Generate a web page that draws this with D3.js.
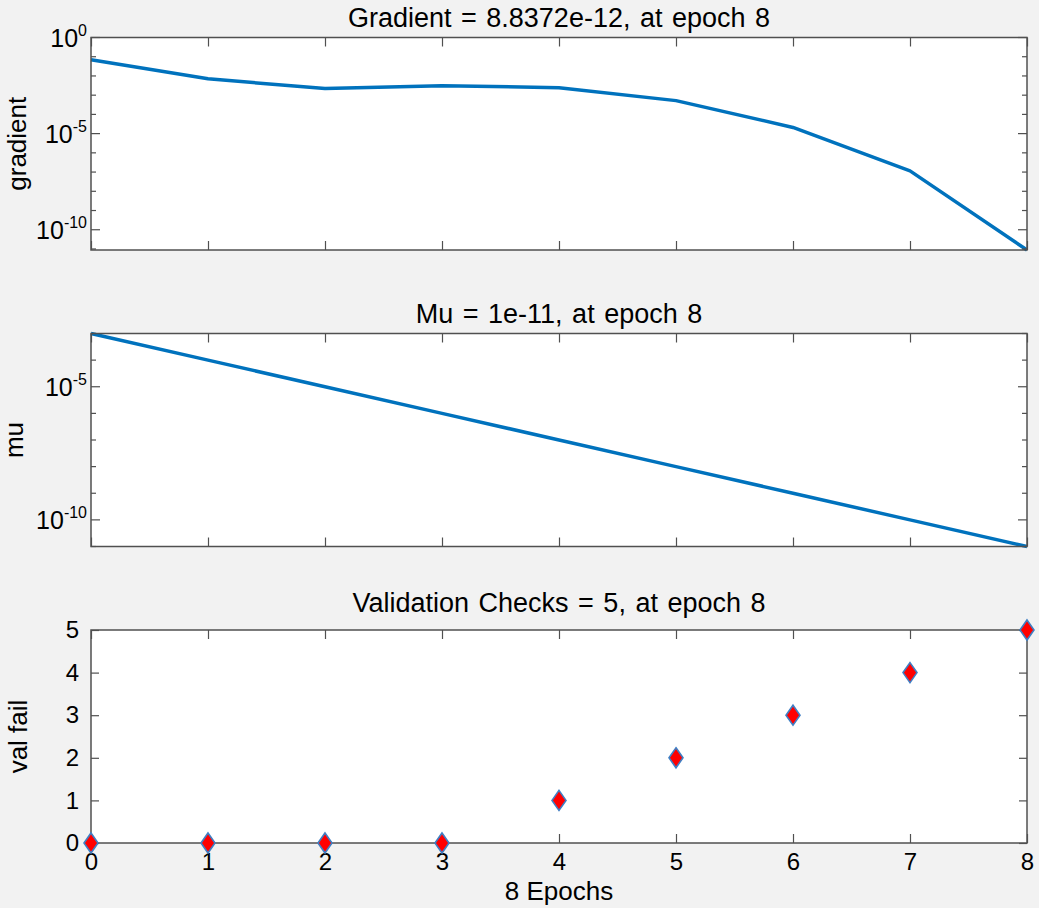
<!DOCTYPE html>
<html>
<head>
<meta charset="utf-8">
<script src="https://cdn.jsdelivr.net/npm/d3@7"></script>
<style>
  body { margin: 0; background: #f2f2f2; }
  svg { display: block; font-family: "Liberation Sans", Arial, sans-serif; }
  .title { font-size: 27px; word-spacing: 2px; text-anchor: middle; fill: #000; }
  .ylabel { font-size: 26px; text-anchor: middle; fill: #000; }
  .tick text { font-size: 24px; fill: #000; font-family: "Liberation Sans", Arial, sans-serif; }
</style>
</head>
<body>
<svg width="1039" height="908"></svg>
<script>
const epochs = [0, 1, 2, 3, 4, 5, 6, 7, 8]
const gradient = [0.069, 0.0071, 0.0022, 0.0031, 0.00245, 0.00052, 2.1e-5, 1.15e-7, 8.8372e-12]
const mu = [1e-3, 1e-4, 1e-5, 1e-6, 1e-7, 1e-8, 1e-9, 1e-10, 1e-11]
const valFail = [0, 0, 0, 0, 1, 2, 3, 4, 5]

const gradMajor = [0, -5, -10]
const muMajor = [-5, -10]
const valTicks = [0, 1, 2, 3, 4, 5]

const svg = d3.select("svg")
const axisColor = "#505050"
const lineColor = "#0072bd"

const left = 91, right = 1027

const scaleX = d3.scaleLinear()
    .domain([0, 8])
    .range([left, right])

// white plot area + title + rotated y label
const drawFrame = function (top, bottom, title, ylabel, labelX, titleY) {
    const g = svg.append("g")
    g.append("rect")
        .attr("x", left).attr("y", top)
        .attr("width", right - left).attr("height", bottom - top)
        .attr("fill", "#fff")
    g.append("text")
        .attr("class", "title")
        .attr("x", (left + right) / 2)
        .attr("y", titleY)
        .text(title)
    g.append("text")
        .attr("class", "ylabel")
        .attr("transform", `translate(${labelX},${(top + bottom) / 2}) rotate(-90)`)
        .text(ylabel)
    return g
}

const addBox = function (g, top, bottom) {
    g.append("rect")
        .attr("x", left).attr("y", top)
        .attr("width", right - left).attr("height", bottom - top)
        .attr("fill", "none")
        .attr("stroke", axisColor)
        .attr("stroke-width", 1.5)
}

const xTicks = function (g, top, bottom, labels) {
    const axB = d3.axisBottom(scaleX).tickValues(epochs).tickSize(-9).tickSizeOuter(0).tickPadding(10)
        .tickFormat(d3.format("d"))
    const axT = d3.axisTop(scaleX).tickValues(epochs).tickSize(-9).tickSizeOuter(0).tickFormat("")
    const gb = g.append("g").attr("transform", `translate(0,${bottom})`).call(axB)
    g.append("g").attr("transform", `translate(0,${top})`).call(axT)
    if (!labels) gb.selectAll("text").remove()
    g.selectAll(".domain").remove()
    g.selectAll(".tick line").attr("stroke", axisColor).attr("stroke-width", 1.2)
}

// log y ticks: major with 10^n labels, minor at every decade
const logTicks = function (g, scaleY, majors) {
    const [lo, hi] = scaleY.domain().map(Math.log10)
    const decades = d3.range(Math.ceil(lo), Math.floor(hi) + 1)
    decades.forEach(p => {
        const y = scaleY(Math.pow(10, p))
        const len = majors.includes(p) ? 9 : 5
        g.append("line").attr("x1", left).attr("x2", left + len).attr("y1", y).attr("y2", y)
            .attr("stroke", axisColor).attr("stroke-width", 1.2)
        g.append("line").attr("x1", right).attr("x2", right - len).attr("y1", y).attr("y2", y)
            .attr("stroke", axisColor).attr("stroke-width", 1.2)
    })
    majors.forEach(p => {
        const y = scaleY(Math.pow(10, p))
        const t = g.append("text")
            .attr("x", left - 4)
            .attr("y", y + 9)
            .attr("text-anchor", "end")
            .attr("font-size", "25px")
        t.append("tspan").text("10")
        t.append("tspan").attr("dy", -11).attr("font-size", "16px").text(p)
    })
}

// ---- panel 1: gradient
{
    const top = 37.5, bottom = 250
    const g = drawFrame(top, bottom, "Gradient = 8.8372e-12, at epoch 8", "gradient", 26, 27)
    const scaleY = d3.scaleLog()
        .domain([d3.min(gradient), 1])
        .range([bottom, top])
    g.append("path")
        .datum(epochs)
        .attr("fill", "none")
        .attr("stroke", lineColor)
        .attr("stroke-width", 3.5)
        .attr("stroke-linejoin", "round")
        .attr("d", d3.line().x(d => scaleX(d)).y(d => scaleY(gradient[d])))
    xTicks(g, top, bottom, false)
    logTicks(g, scaleY, gradMajor)
    addBox(g, top, bottom)
}

// ---- panel 2: mu
{
    const top = 333.5, bottom = 546.5
    const g = drawFrame(top, bottom, "Mu = 1e-11, at epoch 8", "mu", 23, 323)
    const scaleY = d3.scaleLog()
        .domain([d3.min(mu), d3.max(mu)])
        .range([bottom, top])
    g.append("path")
        .datum(epochs)
        .attr("fill", "none")
        .attr("stroke", lineColor)
        .attr("stroke-width", 3.5)
        .attr("d", d3.line().x(d => scaleX(d)).y(d => scaleY(mu[d])))
    xTicks(g, top, bottom, false)
    logTicks(g, scaleY, muMajor)
    addBox(g, top, bottom)
}

// ---- panel 3: validation checks
{
    const top = 630, bottom = 843
    const g = drawFrame(top, bottom, "Validation Checks = 5, at epoch 8", "val fail", 27, 612)
    const scaleY = d3.scaleLinear()
        .domain([0, 5])
        .range([bottom, top])
    xTicks(g, top, bottom, true)
    const axL = d3.axisLeft(scaleY).tickValues(valTicks).tickSize(-8).tickSizeOuter(0).tickPadding(12)
        .tickFormat(d3.format("d"))
    const axR = d3.axisRight(scaleY).tickValues(valTicks).tickSize(-8).tickSizeOuter(0).tickFormat("")
    g.append("g").attr("transform", `translate(${left},0)`).call(axL)
    g.append("g").attr("transform", `translate(${right},0)`).call(axR)
    g.selectAll(".domain").remove()
    g.selectAll(".tick line").attr("stroke", axisColor).attr("stroke-width", 1.2)
    addBox(g, top, bottom)

    g.append("text")
        .attr("class", "ylabel")
        .attr("x", (left + right) / 2)
        .attr("y", 900)
        .text("8 Epochs")

    g.selectAll("path.marker")
        .data(epochs)
        .enter()
        .append("path")
        .attr("class", "marker")
        .attr("transform", d => `translate(${scaleX(d)},${scaleY(valFail[d])})`)
        .attr("d", "M0,-10L7,0L0,10L-7,0Z")
        .attr("fill", "#ff0000")
        .attr("stroke", "#3f7fc4")
        .attr("stroke-width", 1.6)
}
</script>
</body>
</html>
